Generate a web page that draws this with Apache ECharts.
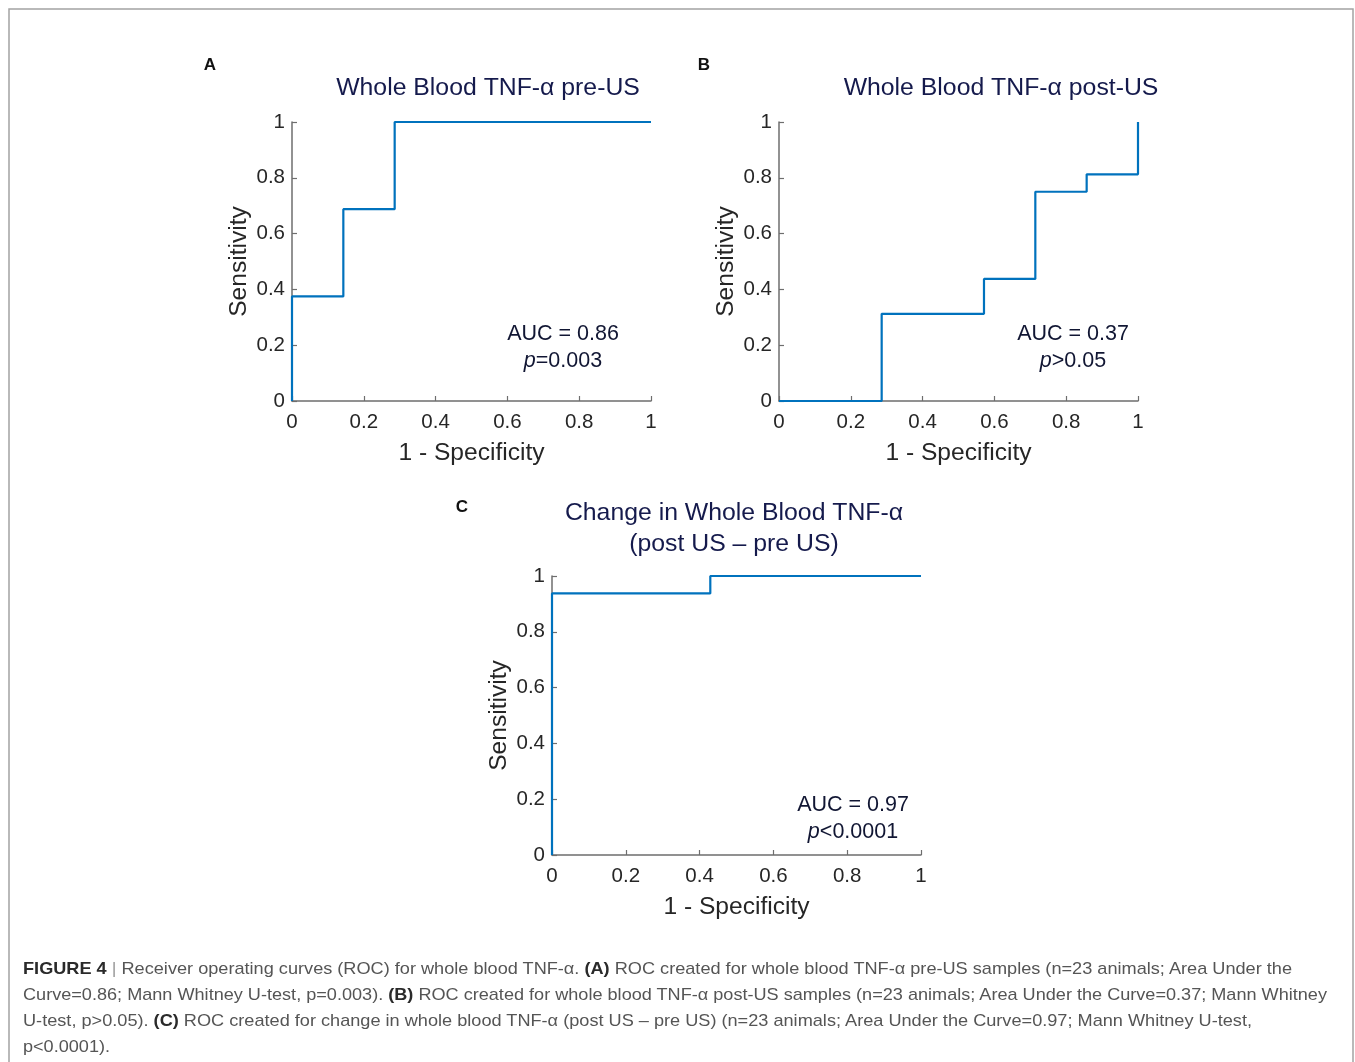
<!DOCTYPE html>
<html>
<head>
<meta charset="utf-8">
<script src="https://cdn.jsdelivr.net/npm/echarts@6/dist/echarts.min.js"></script>
<style>
  html, body { margin: 0; padding: 0; background: #fff; }
  #wrap { position: relative; width: 1355px; height: 1062px; overflow: hidden; }
  #chart { position: absolute; left: 0; top: 0; width: 1355px; height: 1062px; }
  .cap {
    position: absolute; left: 23px; white-space: nowrap;
    font-family: 'Liberation Sans', Arial, sans-serif; font-size: 17px;
    line-height: 26px; color: #555; transform-origin: 0 50%;
  }
  .cap b { color: #2a2a2a; }
  .cap .sep { color: #999; }
</style>
</head>
<body>
<div id="wrap">
  <div id="chart"></div>
  <div class="cap" data-w="1269" style="top:956px"><b>FIGURE 4</b> <span class="sep">|</span> Receiver operating curves (ROC) for whole blood TNF-α. <b>(A)</b> ROC created for whole blood TNF-α pre-US samples (n=23 animals; Area Under the</div>
  <div class="cap" data-w="1304" style="top:982px">Curve=0.86; Mann Whitney U-test, p=0.003). <b>(B)</b> ROC created for whole blood TNF-α post-US samples (n=23 animals; Area Under the Curve=0.37; Mann Whitney</div>
  <div class="cap" data-w="1229" style="top:1008px">U-test, p&gt;0.05). <b>(C)</b> ROC created for change in whole blood TNF-α (post US – pre US) (n=23 animals; Area Under the Curve=0.97; Mann Whitney U-test,</div>
  <div class="cap" data-w="87" style="top:1034px">p&lt;0.0001).</div>
</div>
<script>
// ROC points (1 - specificity, sensitivity)
const fprA = [0, 0, 0.143, 0.143, 0.286, 0.286, 1];
const tprA = [0, 0.375, 0.375, 0.6875, 0.6875, 1, 1];

const fprB = [0, 0.286, 0.286, 0.571, 0.571, 0.714, 0.714, 0.857, 0.857, 1, 1];
const tprB = [0, 0, 0.3125, 0.3125, 0.4375, 0.4375, 0.75, 0.75, 0.8125, 0.8125, 1];

const fprC = [0, 0, 0.429, 0.429, 1];
const tprC = [0, 0.9375, 0.9375, 1, 1];

const titles = ['Whole Blood TNF-α pre-US', 'Whole Blood TNF-α post-US', 'Change in Whole Blood TNF-α\n(post US – pre US)'];
const aucText = ['AUC = 0.86', 'AUC = 0.37', 'AUC = 0.97'];
const pText = ['=0.003', '>0.05', '<0.0001'];
const panelLetters = ['A', 'B', 'C'];

const FONT = "'Liberation Sans', Arial, sans-serif";
const NAVY = '#151a4c';
const AXIS = '#6e6e6e';
const BLUE = '#0072BD';

const grids = [
  { left: 292, top: 122, width: 359, height: 279 },
  { left: 779, top: 122, width: 359, height: 279 },
  { left: 552, top: 576, width: 369, height: 279 }
];

const pair = (xs, ys) => xs.map((x, i) => [x, ys[i]]);
const curves = [pair(fprA, tprA), pair(fprB, tprB), pair(fprC, tprC)];

const axisBase = (i, name) => ({
  gridIndex: i,
  type: 'value',
  min: 0,
  max: 1,
  interval: 0.2,
  name,
  nameLocation: 'middle',
  nameTextStyle: { fontFamily: FONT, fontSize: 24.6, color: '#262626' },
  axisLine: { show: true, onZero: false, lineStyle: { color: AXIS, width: 1.5 } },
  axisTick: { show: true, inside: true, length: 5, lineStyle: { color: AXIS, width: 1.2 } },
  splitLine: { show: false }
});

const xAxes = grids.map((g, i) => Object.assign(axisBase(i, '1 - Specificity'), {
  nameGap: 40,
  axisLabel: { fontFamily: FONT, fontSize: 20.5, color: '#262626', margin: 11 }
}));
const yAxes = grids.map((g, i) => Object.assign(axisBase(i, 'Sensitivity'), {
  nameGap: 40,
  axisLabel: { fontFamily: FONT, fontSize: 20.5, color: '#262626', margin: 7 }
}));

// annotation layout
const titlePos = [[488, 88], [1001, 88], [734, 529]];
const aucPos = [[563, 335], [1073, 335], [853, 806]];
const letterPos = [[210, 65], [704, 65], [462, 507]];

const graphic = [
  {
    type: 'rect', silent: true, z: -1,
    shape: { x: 9, y: 9, width: 1344, height: 1080 },
    style: { fill: 'none', stroke: '#a3a3a3', lineWidth: 1.5 }
  }
];
titles.forEach((t, i) => {
  graphic.push({
    type: 'text', x: titlePos[i][0], y: titlePos[i][1],
    style: { text: t, font: `24.8px ${FONT}`, fill: NAVY, align: 'center', verticalAlign: 'middle', lineHeight: 31 }
  });
  graphic.push({
    type: 'text', x: letterPos[i][0], y: letterPos[i][1],
    style: { text: panelLetters[i], font: `bold 17px ${FONT}`, fill: '#111', align: 'center', verticalAlign: 'middle' }
  });
  graphic.push({
    type: 'text', x: aucPos[i][0], y: aucPos[i][1] + 13,
    style: {
      text: aucText[i] + '\n{i|p}' + pText[i],
      font: `21.5px ${FONT}`, fill: '#111633', align: 'center', verticalAlign: 'middle', lineHeight: 27,
      rich: { i: { fontStyle: 'italic', fontFamily: FONT, fontSize: 21.5, fill: '#111633', lineHeight: 27 } }
    }
  });
});

const chart = echarts.init(document.getElementById('chart'), null, { renderer: 'canvas' });
chart.setOption({
  backgroundColor: '#fff',
  animation: false,
  grid: grids,
  xAxis: xAxes,
  yAxis: yAxes,
  series: curves.map((d, i) => ({
    type: 'line',
    xAxisIndex: i,
    yAxisIndex: i,
    data: d,
    symbol: 'none',
    clip: false,
    z: 5,
    lineStyle: { color: BLUE, width: 2.2 }
  })),
  graphic
});

// stretch caption lines to the widths they take in the figure
document.querySelectorAll('.cap').forEach(el => {
  const target = +el.dataset.w;
  const w = el.getBoundingClientRect().width;
  el.style.transform = `scaleX(${target / w})`;
});
</script>
</body>
</html>
